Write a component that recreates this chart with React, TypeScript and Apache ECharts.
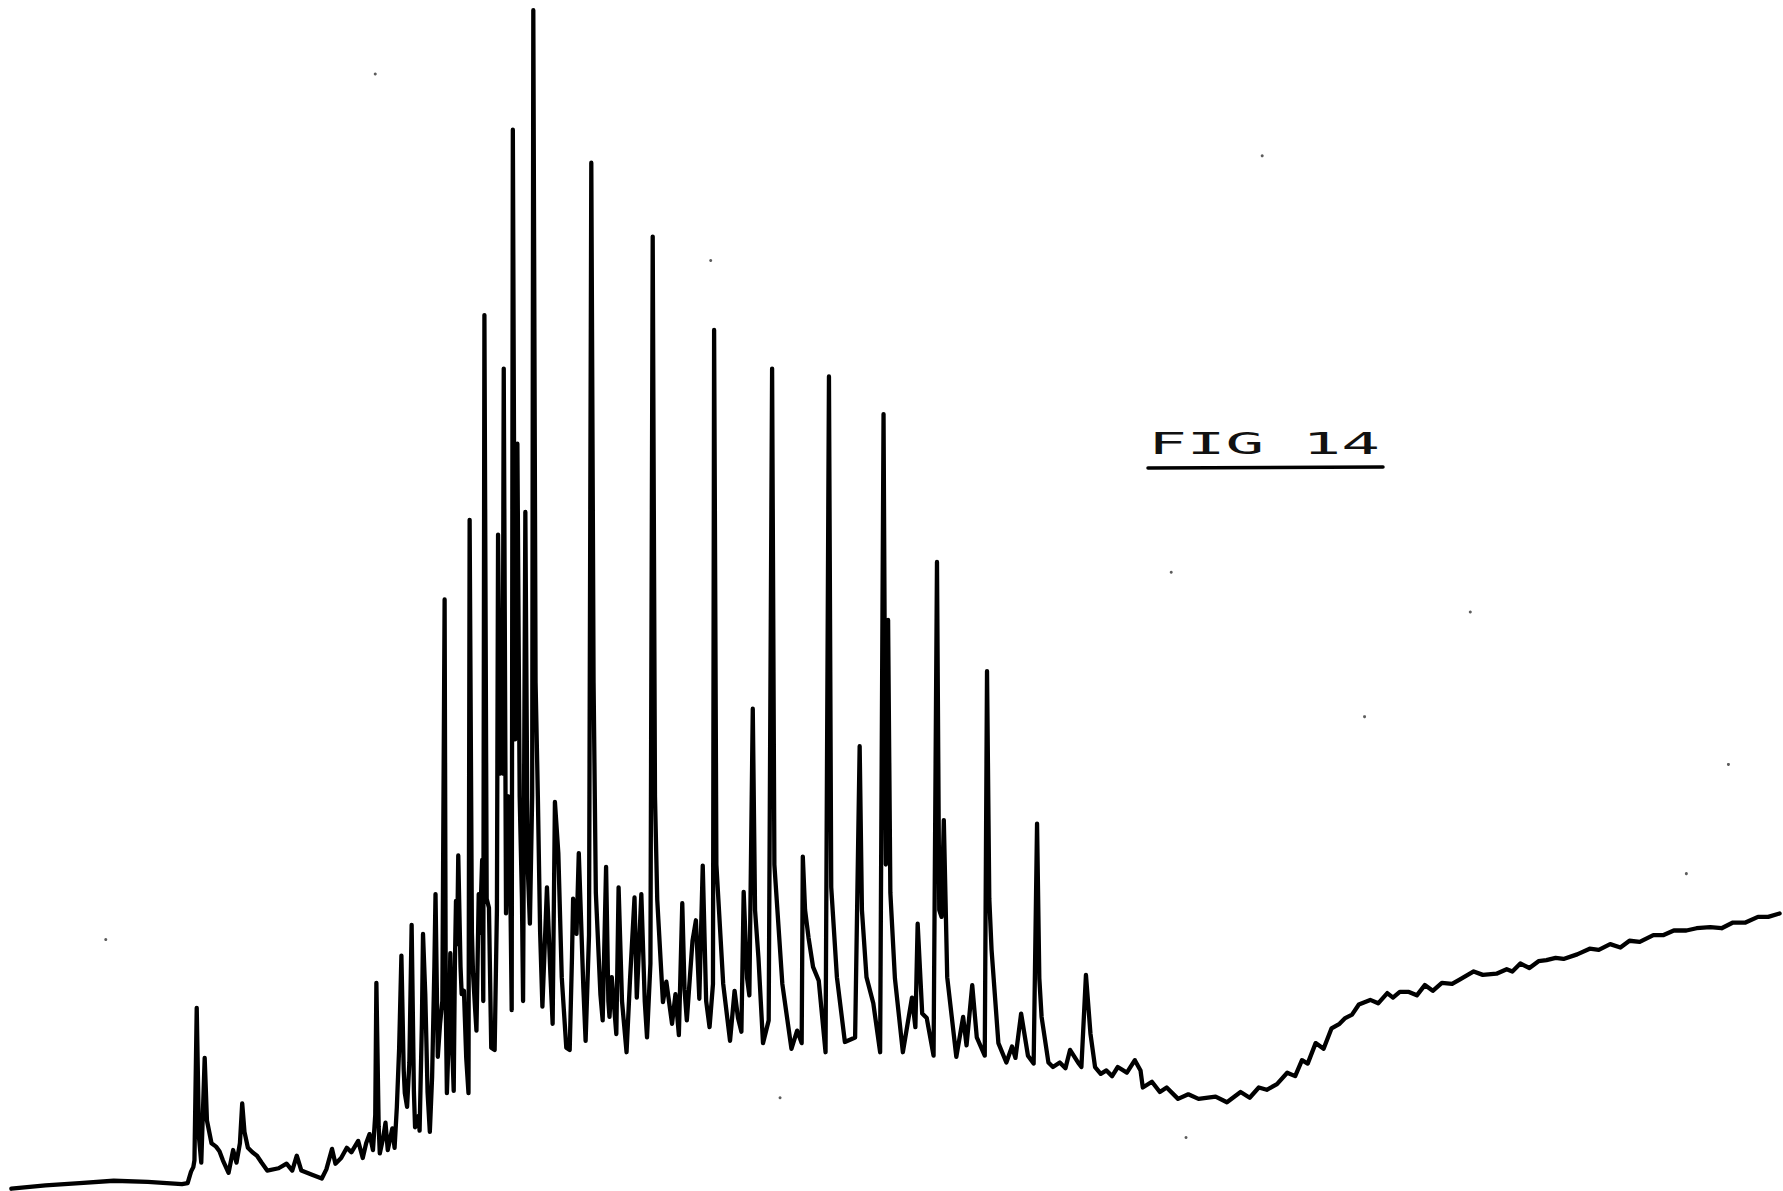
import React, { useEffect, useRef } from "react";
import * as echarts from "echarts";

// Chromatogram trace: [retention (scan units), detector signal]
const solventFront: number[][] = [
  [10, 2], [40, 5], [70, 7], [100, 9], [130, 8], [160, 6], [165, 7], [168, 17], [170, 21], [171, 27],
  [173, 161], [175, 47], [177, 25], [180, 117], [182, 62], [186, 42], [190, 39], [193, 35], [196, 27],
  [201, 16], [205, 36], [208, 25], [211, 42], [213, 77], [215, 52], [218, 38], [222, 34], [226, 31],
  [230, 25], [235, 18], [245, 20], [252, 24], [257, 18], [261, 31], [265, 18], [275, 14], [283, 11],
  [287, 19], [292, 37], [295, 24], [300, 29], [305, 38], [309, 34], [312, 39], [315, 44], [319, 29],
  [322, 42], [325, 50], [328, 36],
];

const earlyCluster: number[][] = [
  [330, 67], [331, 183], [333, 57], [334, 33], [337, 47], [339, 60], [341, 36], [345, 55], [347, 38],
  [349, 74], [351, 125], [353, 207], [355, 107], [356, 86], [358, 74], [360, 113], [362, 234], [364, 87],
  [365, 56], [368, 66], [369, 53], [371, 147], [372, 226], [374, 173], [376, 87], [378, 52], [380, 100],
  [382, 197], [383, 261], [385, 118], [387, 147], [389, 167], [391, 520], [392, 167], [393, 86], [395, 147],
  [396, 209], [397, 147], [399, 88], [400, 197], [401, 255], [402, 217], [403, 295], [405, 197], [406, 173],
  [408, 176], [410, 117], [412, 86], [413, 590], [415, 227], [416, 191], [418, 157], [419, 141], [421, 261],
  [422, 227], [424, 291], [425, 167], [426, 770], [428, 257], [430, 249], [432, 126], [435, 124], [437, 247],
  [438, 577], [440, 367], [441, 424], [442, 367], [443, 723], [445, 244], [447, 347], [449, 247], [450, 159],
  [451, 933], [453, 397], [455, 657], [457, 347], [459, 257], [460, 167], [462, 597], [464, 287], [466, 235],
  [468, 347], [469, 1038], [471, 447], [473, 347], [475, 227], [477, 162], [481, 267], [484, 191], [486, 147],
  [488, 342], [491, 297], [494, 188], [498, 126], [501, 124], [503, 205], [504, 257], [507, 226], [509, 297],
  [513, 179], [515, 132], [518, 225],
];

const homologousSeries: number[][] = [
  [520, 904], [522, 447], [524, 262], [528, 173], [530, 150], [533, 285], [535, 167], [536, 153], [538, 188],
  [542, 138], [544, 267], [547, 167], [551, 122], [554, 185], [558, 258], [560, 170], [564, 261], [567, 167],
  [569, 135], [572, 200], [574, 839], [576, 347], [578, 256], [583, 166], [586, 184], [591, 147], [594, 173],
  [597, 137], [600, 253], [602, 177], [604, 150], [609, 220], [612, 238], [615, 169], [618, 286], [621, 167],
  [624, 144], [627, 182], [628, 757], [630, 287], [636, 182], [642, 132], [646, 176], [649, 152], [652, 140],
  [654, 263], [657, 187], [659, 172], [662, 424], [664, 247], [667, 205], [671, 130], [676, 150], [679, 723],
  [681, 287], [688, 182], [696, 125], [701, 141], [705, 130], [706, 294], [708, 247], [711, 223], [715, 197],
  [720, 185], [726, 122], [729, 716], [731, 267], [736, 188], [743, 131], [752, 135], [756, 391], [758, 247],
  [762, 188], [768, 165], [774, 122], [777, 683], [779, 287], [781, 502], [783, 262], [787, 187], [794, 122],
  [802, 170], [805, 144], [807, 235], [811, 156], [815, 152], [821, 119], [824, 553], [826, 247], [828, 241],
  [830, 326], [833, 188], [841, 118], [847, 153], [850, 128], [855, 181], [859, 135], [866, 119], [868, 457],
  [870, 257], [872, 212], [878, 130], [885, 113], [890, 127], [893, 117], [898, 156], [904, 119], [909, 112],
  [912, 323], [914, 187], [916, 153], [922, 113], [926, 109], [932, 113], [937, 108], [941, 124], [948, 113],
  [951, 109], [955, 190], [959, 138], [963, 109], [968, 103], [973, 106], [978, 101], [983, 109], [991, 104],
  [998, 115],
];

const baselineDrift: number[][] = [
  [1003, 106], [1005, 91], [1013, 96], [1020, 87], [1026, 91], [1036, 81], [1045, 85], [1054, 81], [1069, 83],
  [1079, 78], [1091, 87], [1099, 82], [1107, 91], [1114, 89], [1123, 94], [1132, 104], [1139, 101], [1145, 115],
  [1150, 112], [1157, 130], [1164, 125], [1171, 143], [1178, 147], [1183, 152], [1189, 155], [1195, 164],
  [1205, 168], [1212, 165], [1220, 174], [1225, 170], [1231, 175], [1239, 175], [1246, 172], [1253, 181],
  [1260, 176], [1268, 183], [1277, 182], [1284, 186], [1296, 193], [1304, 190], [1316, 191], [1325, 195],
  [1330, 193], [1337, 200], [1345, 196], [1353, 202], [1360, 203], [1368, 205], [1375, 204], [1387, 208],
  [1398, 213], [1406, 212], [1416, 217], [1425, 214], [1433, 220], [1442, 219], [1454, 225], [1463, 225],
  [1472, 229], [1483, 229], [1492, 231], [1504, 232], [1514, 231], [1524, 236], [1535, 236], [1546, 241],
  [1555, 241], [1565, 244],
];

// Scan specks visible on the page
const specks: number[][] = [
  [1110, 910], [625, 818], [93, 221], [1030, 544], [1200, 417], [330, 982], [1043, 47], [686, 82],
  [1293, 509], [1520, 375], [1483, 279],
];

const figureLabel = "FIG 14";

const X_MAX = 1568;
const Y_MAX = 1047;

export default function App() {
  const ref = useRef<HTMLDivElement>(null);
  useEffect(() => {
    if (!ref.current) return;
    const chart = echarts.init(ref.current, null, { renderer: "svg" });
    const trace = [...solventFront, ...earlyCluster, ...homologousSeries, ...baselineDrift];
    chart.setOption({
      animation: false,
      backgroundColor: "#ffffff",
      grid: { left: 0, right: 0, top: 0, bottom: 0 },
      xAxis: { type: "value", min: 0, max: X_MAX, show: false },
      yAxis: { type: "value", min: 0, max: Y_MAX, show: false },
      series: [
        {
          type: "line",
          data: trace,
          symbol: "none",
          showSymbol: false,
          silent: true,
          lineStyle: { color: "#000000", width: 4.3, join: "round", cap: "round" },
        },
        {
          type: "scatter",
          data: specks,
          symbolSize: 3,
          silent: true,
          itemStyle: { color: "#333333" },
        },
      ],
      graphic: [
        {
          type: "text",
          x: 1264,
          y: 443,
          scaleX: 2.07,
          scaleY: 1,
          style: {
            text: figureLabel,
            fontFamily: "DejaVu Sans Mono",
            fontSize: 31,
            fill: "#111111",
            textAlign: "center",
            textVerticalAlign: "middle",
          },
        },
        {
          type: "line",
          shape: { x1: 1148, y1: 468, x2: 1383, y2: 467 },
          style: { stroke: "#000000", lineWidth: 3.5, lineCap: "round" },
        },
      ],
    });
    return () => chart.dispose();
  }, []);
  return (
    <div
      ref={ref}
      style={{ position: "fixed", left: 0, top: 0, width: 1783, height: 1191 }}
    />
  );
}
